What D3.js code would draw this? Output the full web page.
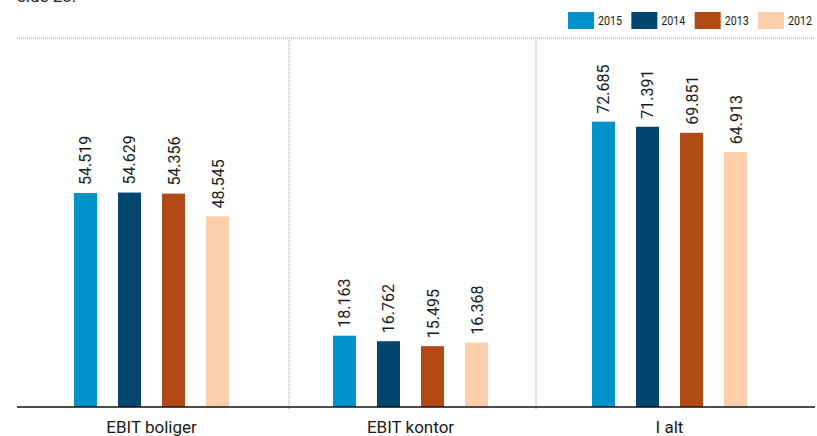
<!DOCTYPE html>
<html>
<head>
<meta charset="utf-8">
<script src="https://cdn.jsdelivr.net/npm/d3@7"></script>
<style>
  html, body { margin: 0; padding: 0; background: #fff; }
  svg { display: block; font-family: Roboto, "Noto Sans", sans-serif; }
</style>
</head>
<body>
<svg id="chart" width="817" height="436"></svg>
<script>
// EBIT per segment, 2012–2015
const categories = ["EBIT boliger", "EBIT kontor", "I alt"];
const years = ["2015", "2014", "2013", "2012"];
const values2015 = [54.519, 18.163, 72.685];
const values2014 = [54.629, 16.762, 71.391];
const values2013 = [54.356, 15.495, 69.851];
const values2012 = [48.545, 16.368, 64.913];
const labels2015 = ["54.519", "18.163", "72.685"];
const labels2014 = ["54.629", "16.762", "71.391"];
const labels2013 = ["54.356", "15.495", "69.851"];
const labels2012 = ["48.545", "16.368", "64.913"];
const colors = ["#0091c9", "#00466f", "#b24a15", "#fdcfaa"];

const seriesValues = [values2015, values2014, values2013, values2012];
const seriesLabels = [labels2015, labels2014, labels2013, labels2012];

const svg = d3.select("#chart");
const baseY = 407, topY = 38, left = 17, right = 815;

const x0 = d3.scaleBand().domain(categories).range([22, 799]).padding(0);
const x1 = d3.scaleBand().domain(years).range([0, x0.bandwidth()])
  .paddingInner(0.477).paddingOuter(1.18);
const y = d3.scaleLinear().domain([0, 94]).range([baseY, topY]);
const color = d3.scaleOrdinal().domain(years).range(colors);

// Page reference running off the top edge
svg.append("text").attr("x", left).attr("y", 2)
  .attr("font-size", 17).attr("fill", "#222").text("side 28.");

// Dotted top rule
svg.append("line").attr("x1", left).attr("x2", right).attr("y1", topY).attr("y2", topY)
  .attr("stroke", "#9a9a9a").attr("stroke-width", 1).attr("stroke-dasharray", "1,1");

// Dotted separators between groups
[289, 536].forEach(sx => {
  svg.append("line").attr("x1", sx).attr("x2", sx).attr("y1", topY).attr("y2", baseY + 3)
    .attr("stroke", "#9a9a9a").attr("stroke-width", 1).attr("stroke-dasharray", "1,1");
});

// Bars and value labels
const rows = [];
categories.forEach((c, ci) => {
  years.forEach((yr, si) => {
    rows.push({ cat: c, year: yr, value: seriesValues[si][ci], label: seriesLabels[si][ci] });
  });
});

const g = svg.append("g");
g.selectAll("rect").data(rows).join("rect")
  .attr("x", d => x0(d.cat) + x1(d.year))
  .attr("y", d => y(d.value))
  .attr("width", x1.bandwidth())
  .attr("height", d => baseY - y(d.value))
  .attr("fill", d => color(d.year));

g.selectAll("text.val").data(rows).join("text")
  .attr("class", "val")
  .attr("transform", d => `translate(${x0(d.cat) + x1(d.year) + x1.bandwidth() / 2 + 6},${y(d.value) - 8}) rotate(-90)`)
  .attr("font-size", 16).attr("fill", "#1a1a1a")
  .text(d => d.label);

// Baseline
svg.append("line").attr("x1", left).attr("x2", right).attr("y1", baseY).attr("y2", baseY)
  .attr("stroke", "#111").attr("stroke-width", 1.3);

// Category axis
const axis = svg.append("g").attr("transform", `translate(0,${baseY})`)
  .call(d3.axisBottom(x0).tickSize(0).tickPadding(0));
axis.select(".domain").remove();
axis.selectAll("text").attr("font-size", 17).attr("fill", "#1a1a1a")
  .attr("font-family", "Roboto, sans-serif").attr("dy", null).attr("y", 26);

// Legend
const lx = d3.scalePoint().domain(years).range([568, 758]);
const leg = svg.append("g").selectAll("g").data(years).join("g")
  .attr("transform", d => `translate(${lx(d)},12)`);
leg.append("rect").attr("width", 26).attr("height", 17).attr("fill", d => color(d));
leg.append("text").attr("x", 30).attr("y", 13).attr("font-size", 13)
  .attr("textLength", 24).attr("lengthAdjust", "spacingAndGlyphs")
  .attr("fill", "#1a1a1a").text(d => d);
</script>
</body>
</html>
